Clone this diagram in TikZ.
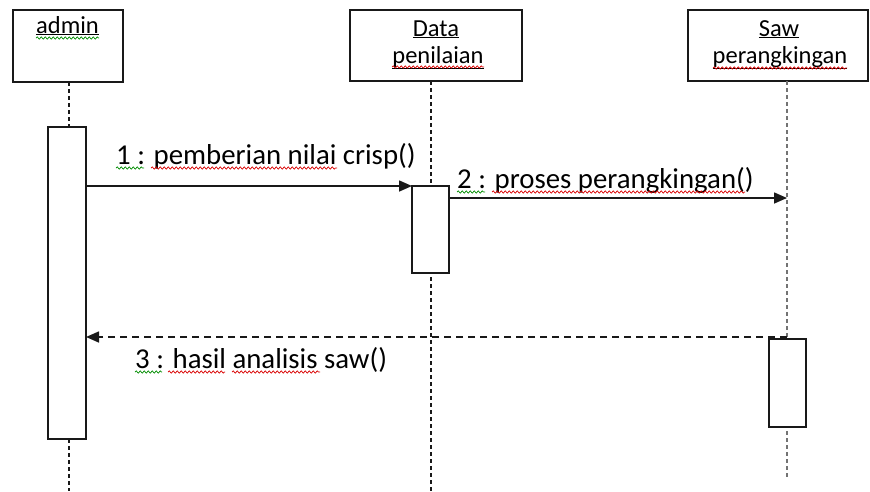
\documentclass[tikz,border=0pt]{standalone}
\usepackage{fontspec}
\setmainfont{Carlito}
\usetikzlibrary{arrows.meta,decorations.pathmorphing}
\begin{document}
\begin{tikzpicture}[x=1pt,y=-1pt,
  ink/.style={line width=1.6pt, draw=black!90},
  objbox/.style={ink, inner sep=0, outer sep=0},
  actbox/.style={ink, fill=white, inner sep=0, outer sep=0},
  lifeline/.style={ink, dash pattern=on 4pt off 3pt},
  msg/.style={ink, -{Triangle[length=13pt,width=11pt]}},
  reply/.style={msg, dash pattern=on 7pt off 5pt},
  hdr/.style={inner sep=0, anchor=base, text=black, font=\fontsize{24.5}{29}\selectfont},
  lbl/.style={inner sep=0, anchor=base west, text=black, font=\fontsize{28.8}{34}\selectfont},
  squig/.style={line width=0.7pt, decorate, decoration={snake, amplitude=1.1pt, segment length=4pt}},
  redsq/.style={squig, draw=red!85!black},
  greensq/.style={squig, draw=green!55!black}]
\useasboundingbox (0,0) rectangle (870,491);

% object boxes
\node[objbox, minimum width=110pt, minimum height=72pt] (admin) at (68,46) {};
\node[objbox, minimum width=172pt, minimum height=71pt] (data) at (436,45.5) {};
\node[objbox, minimum width=180pt, minimum height=71pt] (saw) at (778,45.5) {};

\node[hdr] (adminT) at (67.5,33) {\underline{admin}};
\node[hdr] (dataT1) at (436,36) {\underline{Data}};
\node[hdr] (dataT2) at (438,63) {\underline{penilaian}};
\node[hdr] (sawT1) at (779,36) {\underline{Saw}};
\node[hdr] (sawT2) at (780,63) {\underline{perangkingan}};

% lifelines
\coordinate (adminTop) at (69,82);
\coordinate (adminBot) at (69,491);
\coordinate (dataTop) at (431,81);
\coordinate (dataBot) at (431,491);
\coordinate (sawTop) at (787,81);
\coordinate (sawBot) at (787,478);
\draw[lifeline] (adminTop) -- (adminBot);
\draw[lifeline] (dataTop) -- (dataBot);
\draw[lifeline, draw=black!55] (sawTop) -- (sawBot);

% activation bars
\node[actbox, minimum width=38pt, minimum height=312pt] (adminAct) at (67,283) {};
\node[actbox, minimum width=37pt, minimum height=87pt] (dataAct) at (430.5,229.5) {};
\node[actbox, minimum width=37pt, minimum height=88pt] (sawAct) at (787.5,383) {};

% messages
\coordinate (m2end) at (787,198);
\coordinate (m3start) at (787,337);
\draw[msg] (adminAct.east |- dataAct.north) -- (dataAct.west |- dataAct.north);
\draw[msg] (dataAct.east |- m2end) -- (m2end);
\draw[reply] (m3start) -- (adminAct.east |- m3start);

\node[lbl] (l1) at (116,164) {1 : pemberian nilai crisp()};
\node[lbl] (l2) at (457,188) {2 : proses perangkingan()};
\node[lbl] (l3) at (135,368) {3 : hasil analisis saw()};

% spell-check marks
\draw[greensq] (36,38) -- (99,38);
\draw[redsq] (392,67) -- (484,67);
\draw[redsq] (713,68) -- (847,68);
\draw[greensq] (116,168) -- (144,168);
\draw[redsq] (151,168) -- (337,168);
\draw[greensq] (457,192) -- (485,192);
\draw[redsq] (492,192) -- (745,192);
\draw[greensq] (135,372) -- (162,372);
\draw[redsq] (168,372) -- (225,372);
\draw[redsq] (232,372) -- (320,372);
\end{tikzpicture}
\end{document}
